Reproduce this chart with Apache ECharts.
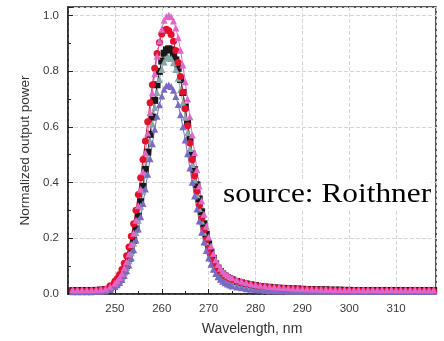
<!DOCTYPE html>
<html>
<head>
<meta charset="utf-8">
<script src="https://cdn.jsdelivr.net/npm/echarts@6/dist/echarts.min.js"></script>
<style>
  html, body { margin: 0; background: #fff; }
  #chart { width: 444px; height: 341px; }
</style>
</head>
<body>
<div id="chart"></div>
<script>
// wavelength grid, nm (denser around the peak)
const wavelength = [
  241, 242, 243, 244, 245, 246, 247, 248, 249,
  250, 250.5, 251, 251.5, 252, 252.5, 253, 253.5, 254, 254.5, 255, 255.5, 256, 256.5, 257, 257.5, 258, 258.5, 259, 259.5, 260, 260.5, 261, 261.5,
  262, 262.5, 263, 263.5, 264, 264.5, 265, 265.5, 266, 266.5, 267, 267.5, 268, 268.5, 269, 269.5, 270, 270.5, 271, 271.5, 272, 272.5, 273, 273.5, 274, 274.5, 275,
  276, 277, 278, 279, 280, 281, 282, 283, 284, 285, 286, 287, 288, 289, 290, 291, 292, 293, 294, 295, 296, 297, 298, 299, 300,
  301, 302, 303, 304, 305, 306, 307, 308, 309, 310, 311, 312, 313, 314, 315, 316, 317, 318
]

const black = [
  .012, .012, .012, .012, .012, .013, .014, .016, .022,
  .034, .042, .052, .065, .082, .102, .127, .157, .192, .233, .279, .331, .386, .447, .509, .573, .635, .695, .751, .799, .836, .864, .876, .880,
  .876, .862, .840, .810, .770, .723, .671, .616, .560, .502, .446, .392, .341, .295, .252, .214, .180, .151, .128, .108, .093, .081, .072, .065, .059, .055, .051,
  .045, .040, .036, .033, .030, .027, .025, .024, .022, .021, .020, .019, .018, .018, .017, .016, .016, .015, .015, .015, .014, .014, .014, .013, .013,
  .012, .012, .012, .012, .012, .012, .012, .012, .012, .012, .012, .012, .012, .012, .012, .012, .012, .012
]

const teal = [
  .010, .010, .010, .010, .010, .011, .012, .014, .019,
  .031, .038, .048, .060, .076, .095, .119, .148, .182, .221, .265, .315, .369, .428, .488, .550, .611, .669, .723, .770, .806, .833, .846, .850,
  .845, .830, .806, .774, .733, .686, .634, .579, .522, .465, .409, .356, .307, .262, .222, .186, .155, .129, .107, .090, .076, .065, .056, .049, .044, .040, .036,
  .031, .027, .024, .021, .019, .017, .016, .015, .014, .013, .013, .012, .012, .011, .011, .011, .011, .010, .010, .010, .010, .010, .010, .010, .010,
  .010, .010, .010, .010, .010, .010, .010, .010, .010, .010, .010, .010, .010, .010, .010, .010, .010, .010
]

const red = [
  .010, .010, .010, .010, .011, .012, .014, .017, .030,
  .046, .056, .070, .088, .110, .137, .169, .207, .252, .301, .357, .417, .483, .549, .618, .686, .751, .810, .863, .903, .933, .946, .950, .945,
  .931, .907, .874, .831, .781, .724, .665, .604, .542, .482, .424, .369, .318, .272, .231, .195, .163, .138, .117, .101, .087, .078, .070, .064, .059, .055, .052,
  .046, .041, .037, .033, .030, .028, .026, .024, .022, .021, .020, .019, .018, .017, .016, .016, .015, .015, .014, .014, .013, .013, .013, .012, .012,
  .011, .011, .011, .011, .010, .010, .011, .010, .010, .010, .010, .010, .010, .011, .010, .010, .010, .010
]

const purple = [
  .008, .008, .008, .008, .008, .009, .010, .012, .016,
  .027, .033, .041, .052, .066, .083, .104, .129, .159, .194, .233, .277, .325, .377, .430, .485, .539, .591, .638, .679, .711, .735, .747, .750,
  .745, .731, .709, .680, .643, .600, .553, .503, .452, .401, .352, .305, .262, .222, .187, .156, .129, .107, .089, .074, .062, .053, .046, .040, .036, .032, .029,
  .025, .022, .019, .017, .015, .014, .013, .012, .012, .011, .011, .010, .010, .010, .010, .010, .010, .010, .010, .010, .010, .010, .010, .010, .010,
  .009, .009, .009, .009, .009, .009, .009, .009, .009, .009, .009, .009, .009, .009, .009, .009, .009, .009
]

const pink = [
  .015, .015, .015, .015, .015, .016, .017, .019, .026,
  .039, .048, .059, .074, .093, .116, .144, .178, .218, .265, .317, .376, .439, .508, .578, .651, .722, .790, .853, .908, .950, .982, .996, 1.0,
  .995, .980, .955, .920, .875, .822, .762, .700, .636, .571, .507, .446, .388, .335, .286, .243, .205, .172, .145, .123, .106, .092, .082, .074, .067, .062, .058,
  .051, .046, .041, .037, .034, .031, .029, .027, .025, .024, .023, .022, .021, .020, .019, .019, .018, .018, .017, .017, .017, .016, .016, .016, .016,
  .015, .016, .015, .015, .016, .015, .015, .015, .016, .015, .015, .015, .015, .016, .015, .015, .015, .015
]

const curves = [
  { values: black, color: '#181818', symbol: 'rect' },
  { values: teal, color: '#86a8ab', symbol: 'triangle' },
  { values: red, color: '#e3112e', symbol: 'circle' },
  { values: purple, color: '#7a6bc2', symbol: 'triangle' },
  { values: pink, color: '#e066c8', symbol: 'triangle' }
]

const chart = echarts.init(document.getElementById('chart'))

const axisFont = { color: '#3a3a3a', fontSize: 11.5, fontFamily: 'Liberation Sans' }
const gridLine = { show: true, lineStyle: { color: '#d6d6d6', type: 'dashed', width: 1 } }

chart.setOption({
  animation: false,
  backgroundColor: '#fff',
  grid: {
    left: 68, right: 8, top: 7, bottom: 44,
    show: true, borderColor: '#222', borderWidth: 1.5
  },
  xAxis: {
    type: 'value',
    min: 240,
    max: 318.5,
    interval: 10,
    name: 'Wavelength, nm',
    nameLocation: 'middle',
    nameGap: 28,
    nameTextStyle: { color: '#333', fontSize: 14, fontFamily: 'Liberation Sans' },
    axisLine: { show: true, lineStyle: { color: '#222', width: 1.5 } },
    axisTick: { inside: true, length: 5, lineStyle: { color: '#222' } },
    minorTick: { show: true, splitNumber: 2, length: 3, lineStyle: { color: '#222' } },
    axisLabel: Object.assign({ margin: 9, showMinLabel: false, showMaxLabel: false }, axisFont),
    splitLine: gridLine
  },
  yAxis: {
    type: 'value',
    min: 0,
    max: 1.03,
    interval: 0.2,
    name: 'Normalized output power',
    nameLocation: 'middle',
    nameGap: 34,
    nameTextStyle: { color: '#333', fontSize: 13.5, fontFamily: 'Liberation Sans' },
    axisLine: { show: true, lineStyle: { color: '#222', width: 1.5 } },
    axisTick: { inside: true, length: 5, lineStyle: { color: '#222' } },
    minorTick: { show: true, splitNumber: 2, length: 3, lineStyle: { color: '#222' } },
    axisLabel: Object.assign({ margin: 9, showMaxLabel: false, formatter: v => v.toFixed(1) }, axisFont),
    splitLine: gridLine
  },
  graphic: [{
    type: 'text',
    x: 223,
    y: 181,
    z: 100,
    scaleX: 1.12,
    style: {
      text: 'source: Roithner',
      fill: '#000',
      font: '28px "Liberation Serif"',
      backgroundColor: '#fff'
    }
  }],
  series: curves.map(c => ({
    type: 'line',
    data: wavelength.map((x, i) => [x, c.values[i]]),
    symbol: c.symbol,
    symbolSize: 7,
    showAllSymbol: true,
    itemStyle: { color: c.color },
    lineStyle: { color: c.color, width: 1 }
  }))
})
</script>
</body>
</html>
